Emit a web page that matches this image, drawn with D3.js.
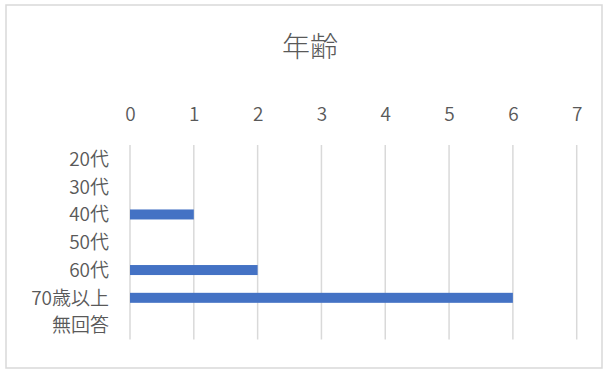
<!DOCTYPE html>
<html>
<head>
<meta charset="utf-8">
<script src="https://cdn.jsdelivr.net/npm/d3@7"></script>
<style>
  body { margin: 0; background: #fff; }
  svg text { font-family: "Noto Sans CJK JP", "Noto Sans", sans-serif; fill: #595959; font-weight: 350; }
  svg text.title { font-weight: 300; }
</style>
</head>
<body>
<svg id="chart" width="607" height="370"></svg>
<script>
const categories = ["20代", "30代", "40代", "50代", "60代", "70歳以上", "無回答"];
const counts = [0, 0, 1, 0, 2, 6, 0];
const xTicks = [0, 1, 2, 3, 4, 5, 6, 7];
const title = "年齢";

const width = 607,
    height = 370,
    margin = { top: 145, right: 30, bottom: 30, left: 130 };

const data = categories.map((c, i) => ({ cat: c, value: counts[i] }));

const svg = d3.select("#chart");

// outer frame
svg.append("rect")
    .attr("x", 6)
    .attr("y", 5)
    .attr("width", 596)
    .attr("height", 363)
    .attr("fill", "#fff")
    .attr("stroke", "#d9d9d9")
    .attr("stroke-width", 1.5);

const x = d3.scaleLinear()
    .domain([0, 7])
    .range([margin.left, 576.7]);

const y = d3.scaleBand()
    .domain(categories)
    .range([margin.top, 339.5])
    .paddingInner(0.64)
    .paddingOuter(0.32);

// gridlines
svg.append("g")
    .selectAll("line")
    .data(xTicks)
    .join("line")
    .attr("x1", d => x(d))
    .attr("x2", d => x(d))
    .attr("y1", margin.top)
    .attr("y2", 339.5)
    .attr("stroke", "#d9d9d9")
    .attr("stroke-width", 1.5);

// top axis labels
const xAxis = g => g
    .attr("transform", `translate(0,${121})`)
    .call(d3.axisTop(x).tickValues(xTicks).tickFormat(d3.format("d")).tickSize(0).tickPadding(0))
    .call(g => g.select(".domain").remove())
    .call(g => g.selectAll("text")
        .attr("font-size", 19)
        .attr("dy", 0));

svg.append("g").call(xAxis);

// left axis labels
const yAxis = g => g
    .attr("transform", `translate(${109},0)`)
    .call(d3.axisLeft(y).tickSize(0).tickPadding(0))
    .call(g => g.select(".domain").remove())
    .call(g => g.selectAll("text")
        .attr("font-size", 19)
        .attr("dy", "0.36em"));

svg.append("g").call(yAxis);

svg.selectAll(".tick text").attr("fill", "#595959");
svg.selectAll("g[font-family]").attr("font-family", null);

// bars
svg.append("g")
    .selectAll("rect")
    .data(data.filter(d => d.value > 0))
    .join("rect")
    .attr("x", x(0))
    .attr("y", d => y(d.cat))
    .attr("width", d => x(d.value) - x(0))
    .attr("height", y.bandwidth())
    .attr("fill", "#4472c4");

svg.append("text")
    .attr("class", "title")
    .attr("x", 310)
    .attr("y", 57)
    .attr("text-anchor", "middle")
    .attr("font-size", 28)
    .text(title);
</script>
</body>
</html>
